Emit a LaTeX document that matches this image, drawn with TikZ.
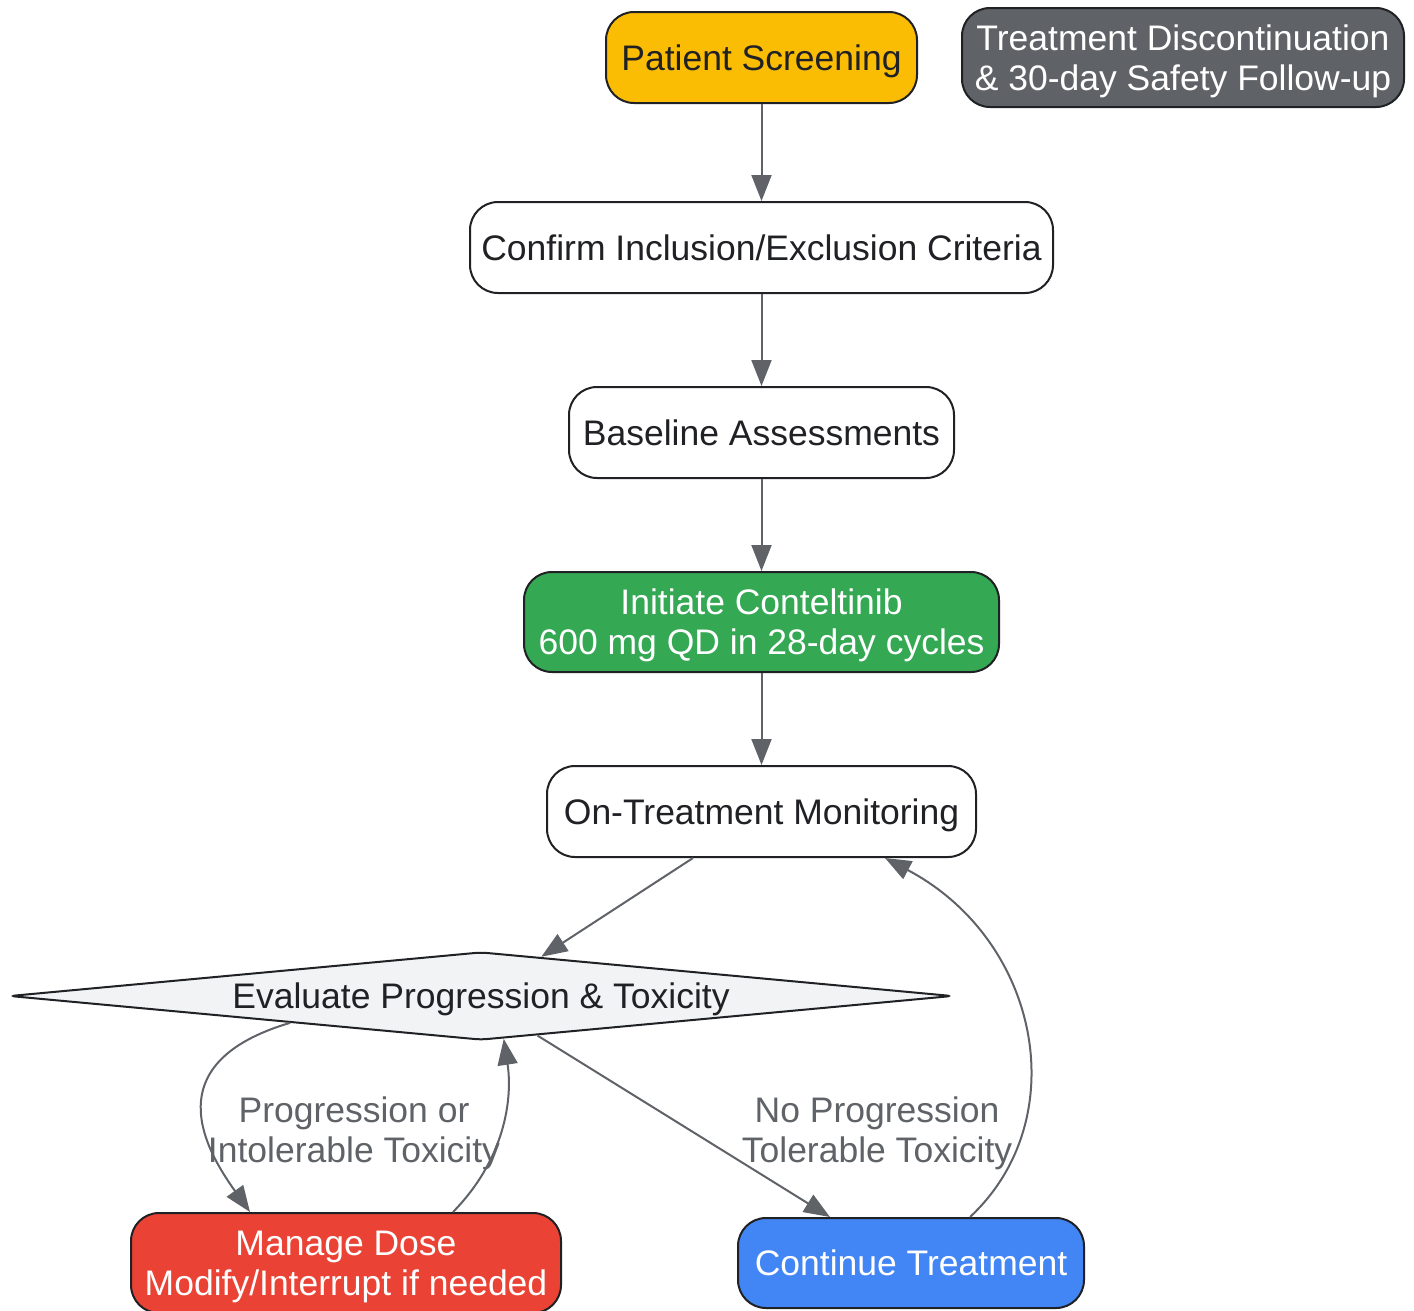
\documentclass[tikz,border=0pt]{standalone}
\usepackage{fontspec}
\setmainfont{Liberation Sans}
\usetikzlibrary{arrows.meta,shapes.geometric}

\definecolor{ink}{HTML}{202124}
\definecolor{edgegray}{HTML}{5F6368}
\definecolor{screenyellow}{HTML}{FBBC04}
\definecolor{stopgray}{HTML}{5F6368}
\definecolor{startgreen}{HTML}{34A853}
\definecolor{dosered}{HTML}{EA4335}
\definecolor{goblue}{HTML}{4285F4}
\definecolor{evalfill}{HTML}{F1F3F4}

\begin{document}
\begin{tikzpicture}[x=1pt,y=1pt,>={Triangle[length=26pt,width=20pt]},
	box/.style={draw=ink,line width=2pt,rounded corners=28pt,fill=white,text=ink,
		inner sep=0pt,align=center,text depth=0pt,font=\fontsize{35.5}{40}\selectfont},
	flow/.style={->,color=edgegray,line width=2pt},
	lbl/.style={text=edgegray,align=center,text depth=0pt,font=\fontsize{35.5}{40}\selectfont}]

\useasboundingbox (0,0) rectangle (1414,-1310);

\node[box,fill=screenyellow,minimum width=311pt,minimum height=91pt] (screen) at (761.5,-57.5) {Patient Screening};
\node[box,fill=stopgray,text=white,minimum width=442pt,minimum height=99pt] (stop) at (1183,-57.5) {Treatment Discontinuation\\\& 30-day Safety Follow-up};
\node[box,minimum width=583pt,minimum height=91pt] (confirm) at (761.5,-247.5) {Confirm Inclusion/Exclusion Criteria};
\node[box,minimum width=385pt,minimum height=91pt] (base) at (761.5,-432.5) {Baseline Assessments};
\node[box,fill=startgreen,text=white,minimum width=475pt,minimum height=100pt] (init) at (761.5,-622) {Initiate Conteltinib\\600 mg QD in 28-day cycles};
\node[box,minimum width=429pt,minimum height=91pt] (monitor) at (761.5,-811.5) {On-Treatment Monitoring};
\node[draw=ink,line width=2pt,diamond,aspect=10.7,fill=evalfill,text=ink,inner sep=0pt,
	rounded corners=6pt,minimum width=943pt,minimum height=88pt,text depth=0pt,
	font=\fontsize{35.5}{40}\selectfont] (eval) at (481,-996) {Evaluate Progression \& Toxicity};
\node[box,fill=dosered,text=white,minimum width=430pt,minimum height=100pt] (manage) at (346,-1263) {Manage Dose\\Modify/Interrupt if needed};
\node[box,fill=goblue,text=white,minimum width=346pt,minimum height=90pt] (cont) at (911,-1263) {Continue Treatment};

\draw[flow] (screen)--(confirm);
\draw[flow] (confirm)--(base);
\draw[flow] (base)--(init);
\draw[flow] (init)--(monitor);
\draw[flow] ([xshift=-68.5pt]monitor.south)--(eval);

\draw[flow] (eval.188) .. controls +(-135,-40) and +(-45,63) .. ([xshift=-96pt]manage.north);
\draw[flow] ([xshift=107pt]manage.north) .. controls +(52,53) and +(9,-60) .. (eval.-62.4);
\draw[flow] (eval.-35)--([xshift=-81pt]cont.north);
\draw[flow] ([xshift=59pt]cont.north) .. controls +(105,98) and +(155,-82) .. ([xshift=123.5pt]monitor.south);

\node[lbl] (badlbl) at (354,-1130) {Progression or\\Intolerable Toxicity};
\node[lbl] (oklbl) at (877,-1130) {No Progression\\Tolerable Toxicity};

\end{tikzpicture}
\end{document}
